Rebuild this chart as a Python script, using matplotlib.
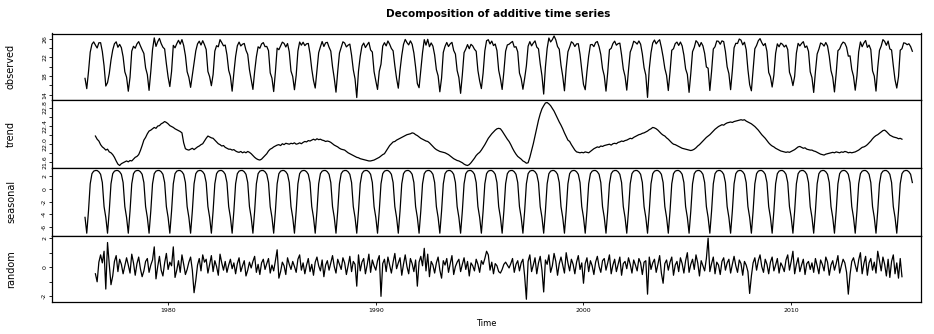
import numpy as np
import matplotlib
matplotlib.use("Agg")
import matplotlib.pyplot as plt

# monthly series, Jan 1976 .. Nov 2015
START = 1976.0
N_MONTHS = 479

# seasonal figure (Jan..Dec), repeats every year
seasonal_fig = [-4.5, -7.0, -3.5, 0.8, 2.4, 2.8, 2.9, 2.9, 2.7, 2.3, 1.0, -2.8]

# trend: Jul 1976 .. May 2015 (one row per calendar year)
trend_rows = [
    [22.17, 22.10, 22.06, 21.98, 21.93, 21.90],
    [21.86, 21.88, 21.82, 21.80, 21.76, 21.70, 21.62, 21.55, 21.52, 21.56, 21.58, 21.60],
    [21.62, 21.60, 21.63, 21.62, 21.66, 21.70, 21.72, 21.76, 21.85, 21.96, 22.08, 22.14],
    [22.22, 22.28, 22.30, 22.33, 22.36, 22.34, 22.39, 22.40, 22.44, 22.46, 22.49, 22.47],
    [22.44, 22.40, 22.38, 22.36, 22.33, 22.31, 22.29, 22.27, 22.24, 22.02, 21.89, 21.87],
    [21.86, 21.88, 21.90, 21.87, 21.90, 21.93, 21.95, 21.98, 22.00, 22.06, 22.12, 22.17],
    [22.15, 22.13, 22.12, 22.08, 22.04, 22.00, 21.98, 21.95, 21.96, 21.92, 21.90, 21.88],
    [21.88, 21.86, 21.87, 21.84, 21.82, 21.81, 21.83, 21.80, 21.82, 21.80, 21.83, 21.81],
    [21.78, 21.74, 21.70, 21.67, 21.65, 21.64, 21.66, 21.70, 21.74, 21.78, 21.84, 21.88],
    [21.90, 21.93, 21.95, 21.97, 21.98, 21.96, 22.00, 21.98, 22.01, 22.00, 21.99, 22.01],
    [22.00, 22.02, 21.99, 22.00, 22.02, 22.00, 22.03, 22.05, 22.04, 22.07, 22.06, 22.08],
    [22.10, 22.08, 22.11, 22.09, 22.10, 22.08, 22.07, 22.05, 22.06, 22.05, 22.03, 22.00],
    [21.97, 21.95, 21.93, 21.90, 21.88, 21.87, 21.86, 21.83, 21.80, 21.78, 21.76, 21.74],
    [21.72, 21.70, 21.69, 21.67, 21.66, 21.65, 21.64, 21.63, 21.62, 21.62, 21.63, 21.64],
    [21.66, 21.68, 21.70, 21.73, 21.76, 21.78, 21.84, 21.90, 21.96, 22.00, 22.04, 22.05],
    [22.08, 22.10, 22.12, 22.14, 22.16, 22.18, 22.20, 22.21, 22.22, 22.24, 22.23, 22.20],
    [22.18, 22.15, 22.12, 22.10, 22.08, 22.06, 22.05, 22.02, 21.98, 21.94, 21.90, 21.87],
    [21.85, 21.83, 21.82, 21.81, 21.80, 21.78, 21.76, 21.73, 21.70, 21.67, 21.65, 21.63],
    [21.62, 21.60, 21.58, 21.55, 21.53, 21.52, 21.54, 21.58, 21.63, 21.68, 21.74, 21.78],
    [21.81, 21.86, 21.92, 21.98, 22.05, 22.12, 22.17, 22.22, 22.26, 22.30, 22.33, 22.34],
    [22.33, 22.28, 22.22, 22.16, 22.10, 22.05, 21.98, 21.90, 21.83, 21.77, 21.72, 21.69],
    [21.66, 21.62, 21.60, 21.57, 21.58, 21.70, 21.85, 22.00, 22.17, 22.35, 22.52, 22.66],
    [22.77, 22.84, 22.90, 22.91, 22.88, 22.84, 22.78, 22.72, 22.64, 22.56, 22.48, 22.41],
    [22.33, 22.24, 22.16, 22.08, 22.05, 21.98, 21.92, 21.86, 21.82, 21.81, 21.80, 21.81],
    [21.80, 21.82, 21.81, 21.80, 21.83, 21.86, 21.89, 21.91, 21.93, 21.92, 21.95, 21.94],
    [21.96, 21.97, 21.98, 21.99, 21.97, 22.00, 22.01, 22.00, 22.03, 22.04, 22.06, 22.05],
    [22.07, 22.08, 22.10, 22.12, 22.11, 22.14, 22.16, 22.18, 22.20, 22.21, 22.23, 22.24],
    [22.26, 22.28, 22.31, 22.33, 22.36, 22.35, 22.33, 22.30, 22.26, 22.22, 22.19, 22.17],
    [22.13, 22.10, 22.06, 22.02, 21.99, 21.98, 21.96, 21.94, 21.92, 21.90, 21.89, 21.88],
    [21.87, 21.86, 21.85, 21.86, 21.88, 21.91, 21.95, 21.98, 22.02, 22.06, 22.10, 22.14],
    [22.17, 22.20, 22.24, 22.28, 22.32, 22.35, 22.38, 22.40, 22.42, 22.41, 22.44, 22.46],
    [22.47, 22.48, 22.47, 22.49, 22.50, 22.51, 22.52, 22.53, 22.52, 22.53, 22.50, 22.48],
    [22.46, 22.44, 22.41, 22.38, 22.34, 22.30, 22.25, 22.20, 22.16, 22.12, 22.07, 22.02],
    [21.98, 21.95, 21.93, 21.90, 21.88, 21.86, 21.84, 21.83, 21.82, 21.81, 21.82, 21.81],
    [21.83, 21.85, 21.87, 21.90, 21.93, 21.94, 21.92, 21.90, 21.91, 21.88, 21.87, 21.86],
    [21.86, 21.84, 21.83, 21.81, 21.79, 21.77, 21.76, 21.75, 21.77, 21.78, 21.79, 21.80],
    [21.81, 21.80, 21.82, 21.81, 21.80, 21.82, 21.81, 21.83, 21.82, 21.80, 21.81, 21.80],
    [21.81, 21.82, 21.84, 21.86, 21.89, 21.92, 21.93, 21.95, 21.98, 22.02, 22.06, 22.11],
    [22.15, 22.18, 22.20, 22.23, 22.26, 22.29, 22.30, 22.27, 22.23, 22.19, 22.17, 22.15],
    [22.14, 22.13, 22.11, 22.12, 22.10],
]

# remainder: same months as the trend
random_rows = [
    [-0.45, -1.00, 0.35, 0.85, 0.30, 1.10],
    [-1.50, 1.70, 0.20, -1.20, -0.60, 0.40, 0.80, -0.30, 0.55, 0.20, -0.45, 0.10],
    [0.65, 0.15, -0.40, 0.90, 0.30, -0.55, 0.25, 0.70, -0.10, -0.65, -0.25, 0.40],
    [0.60, -0.35, 0.15, 0.50, 1.40, -0.80, 0.05, 0.75, -0.20, -0.60, 0.30, 0.95],
    [-0.15, 0.35, 0.10, 1.40, -0.70, -0.20, 0.45, -0.35, 0.85, 0.20, -0.50, -0.15],
    [0.35, 0.70, -0.20, -1.75, -0.90, 0.15, 0.60, -0.25, 0.85, 0.35, 0.55, -0.40],
    [0.20, 0.80, -0.30, 0.45, 0.05, -0.55, 0.90, 0.30, -0.20, 0.40, -0.35, 0.15],
    [0.55, -0.10, 0.30, -0.45, 0.25, 0.65, -0.30, 0.10, 0.45, -0.60, -0.20, 0.35],
    [-0.05, 0.40, 0.75, -0.35, 0.20, -0.50, 0.30, 0.55, -0.15, 0.25, 0.60, -0.40],
    [0.15, -0.25, 0.45, 1.20, -0.75, -0.30, 0.35, 0.10, -0.50, 0.65, 0.20, -0.15],
    [0.40, 0.05, -0.35, 0.55, 0.85, -0.20, 0.30, -0.45, 0.15, 0.60, -0.30, 0.20],
    [-0.55, 0.35, 0.70, 0.10, -0.25, 0.50, -0.65, 0.15, 0.45, -0.20, 0.30, 0.80],
    [0.05, -0.40, 0.55, 0.20, -0.15, 0.65, 0.30, -0.50, 0.10, 0.75, -0.30, 0.40],
    [0.20, -1.30, 0.85, -0.25, 0.35, 0.60, -0.45, 0.15, 0.90, -0.35, 0.50, 0.10],
    [-0.20, 0.45, 0.80, -2.00, 0.25, 0.55, -0.30, 0.70, 0.15, -0.40, 0.35, 0.95],
    [-0.10, 0.30, 0.65, -0.55, 0.20, 0.85, 0.05, -0.45, 0.60, 0.25, -0.30, 0.50],
    [-1.30, 0.35, 0.75, 0.10, 1.30, -0.25, 0.90, -0.65, 0.40, 0.15, -0.40, 0.30],
    [0.70, -0.20, -0.75, 0.45, 0.15, 0.60, -0.35, 0.25, 0.80, -0.50, 0.05, 0.35],
    [0.55, -0.30, 0.20, 0.65, -0.15, 0.40, -0.60, 0.30, 0.10, -0.25, 0.55, 0.20],
    [-0.35, 0.45, 0.20, 0.60, 1.10, 0.85, -0.20, 0.35, -0.45, 0.25, 0.10, -0.30],
    [-0.40, -0.15, 0.20, 0.35, 0.15, -0.05, 0.25, 0.60, -0.35, 0.20, 0.45, -0.25],
    [0.30, 0.55, -0.60, -2.20, 0.40, 0.85, -0.30, 0.15, 0.65, -0.45, 0.30, 0.75],
    [-0.20, -1.70, 0.50, 0.20, 0.85, -0.35, 0.10, 0.95, 0.40, -0.55, 0.25, 0.70],
    [0.15, -0.40, 1.00, 0.30, -0.25, 0.55, 0.20, -0.45, 0.35, 0.80, -0.15, 0.30],
    [-1.10, 0.25, 0.65, -0.30, 0.45, 0.10, -0.50, 0.35, 0.75, 0.05, -0.35, 0.45],
    [0.60, -0.20, 0.30, 0.85, -0.45, 0.15, 0.55, -0.30, 0.20, 0.70, -0.55, 0.25],
    [0.40, -0.10, 0.65, 0.20, -0.40, 0.50, 0.15, -0.25, 0.60, 0.30, -0.50, 0.35],
    [0.45, -1.85, 0.70, -0.15, 0.30, 0.55, -0.35, 0.20, 0.80, -0.40, -1.10, 0.25],
    [0.50, -0.20, 0.35, 0.70, -0.55, 0.15, 0.40, -0.30, 0.65, 0.25, -0.40, 0.45],
    [1.00, -0.35, 0.20, 0.55, -0.15, 0.85, 0.30, -0.60, 0.45, 0.10, -0.25, 0.60],
    [2.00, -0.30, 0.25, 0.70, -0.45, 0.35, 0.15, -0.50, 0.40, 0.65, -0.20, 0.30],
    [0.55, -0.40, 0.20, 0.75, 0.10, -0.35, 0.50, 0.25, -0.55, 0.40, 0.15, -0.30],
    [-1.80, -0.60, 0.30, 0.65, -0.20, 0.45, 0.85, 0.05, -0.35, 0.55, 0.20, -0.45],
    [0.35, 0.70, -0.25, 0.15, 0.60, -0.40, 0.30, 0.05, -0.30, 0.50, 0.85, -0.20],
    [0.40, 1.10, -0.45, 0.20, 0.65, -0.30, 0.15, 0.55, -0.50, 0.25, 0.40, -0.15],
    [0.30, -0.35, 0.60, 0.10, -0.45, 0.50, 0.20, -0.25, 0.70, 0.35, -0.55, 0.15],
    [0.45, -0.20, 0.25, 0.80, -0.40, 0.10, 0.55, 0.30, -0.35, -1.85, -0.50, 0.40],
    [0.65, 0.15, -0.30, 0.50, 1.00, -0.45, 0.25, 0.75, -0.55, 0.30, 0.60, -0.20],
    [0.35, -0.40, 1.10, 0.45, -0.25, 0.70, 0.20, -0.60, 0.55, -0.70, 0.40, 0.85],
    [-0.45, 0.30, -0.75, 0.60, -0.65],
]

# observed months outside the trend window (Jan-Jun 1976, Jun-Nov 2015)
observed_head = [17.5, 15.3, 18.9, 23.1, 24.8, 25.3]
observed_tail = [25.1, 25.0, 24.7, 24.9, 24.3, 23.3]

trend = np.concatenate([np.array(r) for r in trend_rows])
remainder = np.concatenate([np.array(r) for r in random_rows])
time = START + np.arange(N_MONTHS) / 12.0
seasonal = np.resize(np.array(seasonal_fig), N_MONTHS)
mid = slice(len(observed_head), len(observed_head) + len(trend))
# additive model: observed = trend + seasonal + random
observed = np.concatenate([observed_head,
                           trend + seasonal[mid] + remainder,
                           observed_tail])

W, H = 934, 334
fig = plt.figure(figsize=(W / 100, H / 100), dpi=100)
left, right = 52 / W, 921 / W
edges = [33.5, 100, 168, 235.7, 301.7]

panels = [
    ("observed", time, observed,
     [14, 16, 18, 20, 22, 24, 26], ["14", "", "18", "", "22", "", "26"]),
    ("trend", time[mid], trend,
     [21.6, 21.8, 22.0, 22.2, 22.4, 22.6, 22.8],
     ["21.6", "", "22.0", "", "22.4", "", "22.8"]),
    ("seasonal", time, seasonal,
     [-6, -4, -2, 0, 2], ["-6", "-4", "-2", "0", "2"]),
    ("random", time[mid], remainder,
     [-2, -1, 0, 1, 2], ["-2", "", "0", "", "2"]),
]

for i, (name, x, y, ticks, labels) in enumerate(panels):
    top, bot = edges[i], edges[i + 1]
    ax = fig.add_axes([left, 1 - bot / H, right - left, (bot - top) / H])
    ax.plot(x, y, color="black", lw=0.9)
    ax.set_xlim(1974.41, 2016.25)
    ax.margins(y=0.04)
    ax.set_yticks(ticks)
    ax.set_yticklabels(labels)
    ax.tick_params(axis="y", direction="out", length=2.5, width=0.6,
                   labelsize=4.5, pad=1, labelrotation=90)
    for lab in ax.get_yticklabels():
        lab.set_va("center")
    for sp in ax.spines.values():
        sp.set_linewidth(0.9)
    ax.set_ylabel(name, fontsize=7, labelpad=4)
    ax.yaxis.set_label_coords(-36 / (921 - 52), 0.5)
    if i < 3:
        ax.set_xticks([])
    else:
        ax.set_xticks([1980, 1990, 2000, 2010])
        ax.tick_params(axis="x", direction="out", length=2.5, width=0.6,
                       labelsize=4.5, pad=2)
        ax.set_xlabel("Time", fontsize=6, labelpad=4)

fig.text(498 / W, 1 - 14 / H, "Decomposition of additive time series",
         ha="center", va="center", fontsize=7.5, fontweight="bold")

fig.savefig("out.png", dpi=100)
